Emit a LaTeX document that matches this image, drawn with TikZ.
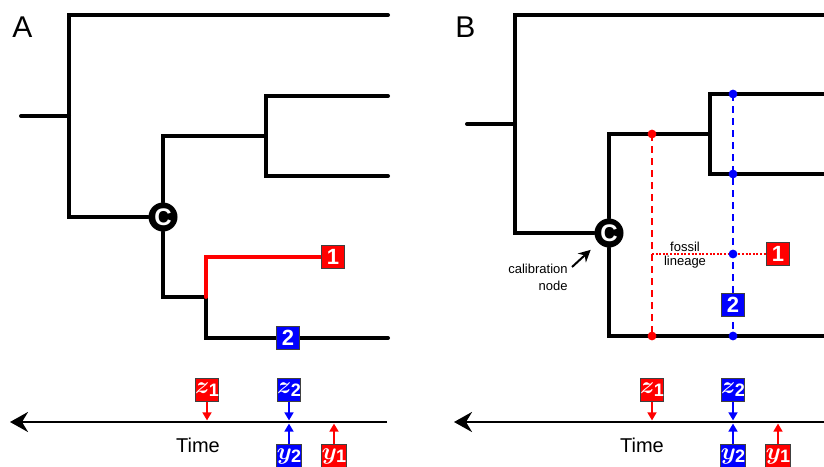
\documentclass[tikz,border=0pt]{standalone}
\usepackage{fontspec}
\setmainfont{Liberation Sans}
\usetikzlibrary{arrows.meta,backgrounds}
\newcommand{\agelabel}[2]{$#1$\kern-0.3pt\raisebox{-1.5pt}{\fontsize{9}{9}\selectfont\bfseries #2}}
\tikzset{
  branch/.style={line width=2pt, line cap=round},
  numbox/.style={draw=black!75, line width=0.5pt, text=white, font=\fontsize{11}{11}\selectfont\bfseries, minimum size=11.5pt, inner sep=0pt},
  agebox/.style={draw=black!75, line width=0.5pt, text=white, font=\fontsize{12}{12}\selectfont\boldmath, minimum size=11.5pt, inner sep=0pt},
  calnode/.style={circle, fill=black, text=white, font=\fontsize{12}{12}\selectfont\bfseries, minimum size=14.5pt, inner sep=0pt},
  timeaxis/.style={line width=1.4pt, -{Stealth[length=9pt, width=10pt, inset=3pt]}},
  agearrow/.style={line width=0.8pt, -{Triangle[length=4pt, width=4.5pt]}, shorten >=0.8pt},
  ghostline/.style={line width=1pt, dash pattern=on 3.5pt off 2.5pt},
  fossilline/.style={red, line width=1pt, dash pattern=on 1pt off 0.8pt},
  smalltext/.style={font=\fontsize{6.5}{8.5}\selectfont, inner sep=0pt},
  timetext/.style={font=\fontsize{10}{10}\selectfont, anchor=base, inner sep=0pt},
  panellabel/.style={font=\fontsize{15}{15}\selectfont, anchor=base west, inner sep=0pt},
}
\begin{document}
\begin{tikzpicture}[x=0.5pt, y=-0.5pt]
  \useasboundingbox (0,0) rectangle (824,466);

  % panel A
  \node[panellabel] (alabel) at (12,37) {A};
  \coordinate (aroot) at (21,116);
  \coordinate (ajoin) at (69,116);
  \coordinate (atip1) at (388,15);
  \node[calnode] (ca) at (163,217) {C};
  \coordinate (ainner) at (266,136);
  \coordinate (atip2) at (388,96);
  \coordinate (atip3) at (388,176);
  \coordinate (alow) at (206,297);
  \coordinate (atip4) at (388,338);
  \node[numbox, fill=red] (afos1) at (333,257) {1};
  \node[numbox, fill=blue] (afos2) at (288,338) {2};
  \begin{scope}[on background layer]
    \draw[branch] (aroot) -- (ajoin);
    \draw[branch] (atip1) -| (ajoin) |- (ca);
    \draw[branch] (atip2) -| (ainner);
    \draw[branch] (atip3) -| (ainner) -| (ca);
    \draw[branch] (ca) |- (alow) |- (atip4);
    \draw[branch, red] (alow) |- (afos1);
  \end{scope}

  \coordinate (aaxisR) at (387,422);
  \coordinate (aaxisL) at (10,422);
  \draw[timeaxis] (aaxisR) -- (aaxisL);
  \node[timetext] (atime) at (198,452.7) {Time};
  \node[agebox, fill=red] (az1) at (207,390) {\agelabel{z}{1}};
  \node[agebox, fill=blue] (az2) at (289,390) {\agelabel{z}{2}};
  \node[agebox, fill=blue] (ay2) at (289,456) {\agelabel{y}{2}};
  \node[agebox, fill=red] (ay1) at (334,456) {\agelabel{y}{1}};
  \draw[agearrow, red] (az1) -- (az1 |- aaxisR);
  \draw[agearrow, blue] (az2) -- (az2 |- aaxisR);
  \draw[agearrow, blue] (ay2) -- (ay2 |- aaxisR);
  \draw[agearrow, red] (ay1) -- (ay1 |- aaxisR);

  % panel B
  \node[panellabel] (blabel) at (455,37) {B};
  \coordinate (broot) at (467,124);
  \coordinate (bjoin) at (515,124);
  \coordinate (btip1) at (832,15);
  \node[calnode] (cb) at (609,233) {C};
  \coordinate (binner) at (710,134);
  \coordinate (btip2) at (832,94);
  \coordinate (btip3) at (832,174);
  \coordinate (btip4) at (832,336);
  \coordinate (rtop) at (652,134);
  \coordinate (rfos) at (652,254);
  \coordinate (rbot) at (652,336);
  \coordinate (ltop) at (733,94);
  \coordinate (lmid) at (733,174);
  \coordinate (lfos) at (733,254);
  \coordinate (lbot) at (733,336);
  \node[numbox, fill=red] (bfos1) at (778,254) {1};
  \node[numbox, fill=blue] (bfos2) at (733,305) {2};
  \node[smalltext, anchor=base] (fossiltxt) at (685,251.5) {fossil};
  \node[smalltext, anchor=base] (lineagetxt) at (685,265.5) {lineage};
  \node[smalltext, align=right, anchor=east] (callabel) at (568,277) {calibration\\node};
  \begin{scope}[on background layer]
    \draw[ghostline, red] (rtop) -- (rbot);
    \draw[ghostline, blue] (ltop) -- (lbot);
    \draw[fossilline] (rfos) -- (bfos1);
    \draw[branch] (broot) -- (bjoin);
    \draw[branch] (btip1) -| (bjoin) |- (cb);
    \draw[branch] (btip2) -| (binner);
    \draw[branch] (btip3) -| (binner) -| (cb);
    \draw[branch] (cb) |- (btip4);
  \end{scope}
  \foreach \p in {rtop,rbot}
    \fill[red] (\p) circle (2.2pt);
  \foreach \p in {ltop,lmid,lfos,lbot}
    \fill[blue] (\p) circle (2.2pt);
  \draw[line width=1pt, -{Stealth[length=6pt, width=6pt]}, shorten >=5pt] ([shift={(4,-10)}]callabel.east) -- (cb);

  \coordinate (baxisR) at (830,422);
  \coordinate (baxisL) at (454,422);
  \draw[timeaxis] (baxisR) -- (baxisL);
  \node[timetext] (btime) at (642,452.7) {Time};
  \node[agebox, fill=red] (bz1) at (652,390) {\agelabel{z}{1}};
  \node[agebox, fill=blue] (bz2) at (733,390) {\agelabel{z}{2}};
  \node[agebox, fill=blue] (by2) at (733,456) {\agelabel{y}{2}};
  \node[agebox, fill=red] (by1) at (778,456) {\agelabel{y}{1}};
  \draw[agearrow, red] (bz1) -- (bz1 |- baxisR);
  \draw[agearrow, blue] (bz2) -- (bz2 |- baxisR);
  \draw[agearrow, blue] (by2) -- (by2 |- baxisR);
  \draw[agearrow, red] (by1) -- (by1 |- baxisR);
\end{tikzpicture}
\end{document}
